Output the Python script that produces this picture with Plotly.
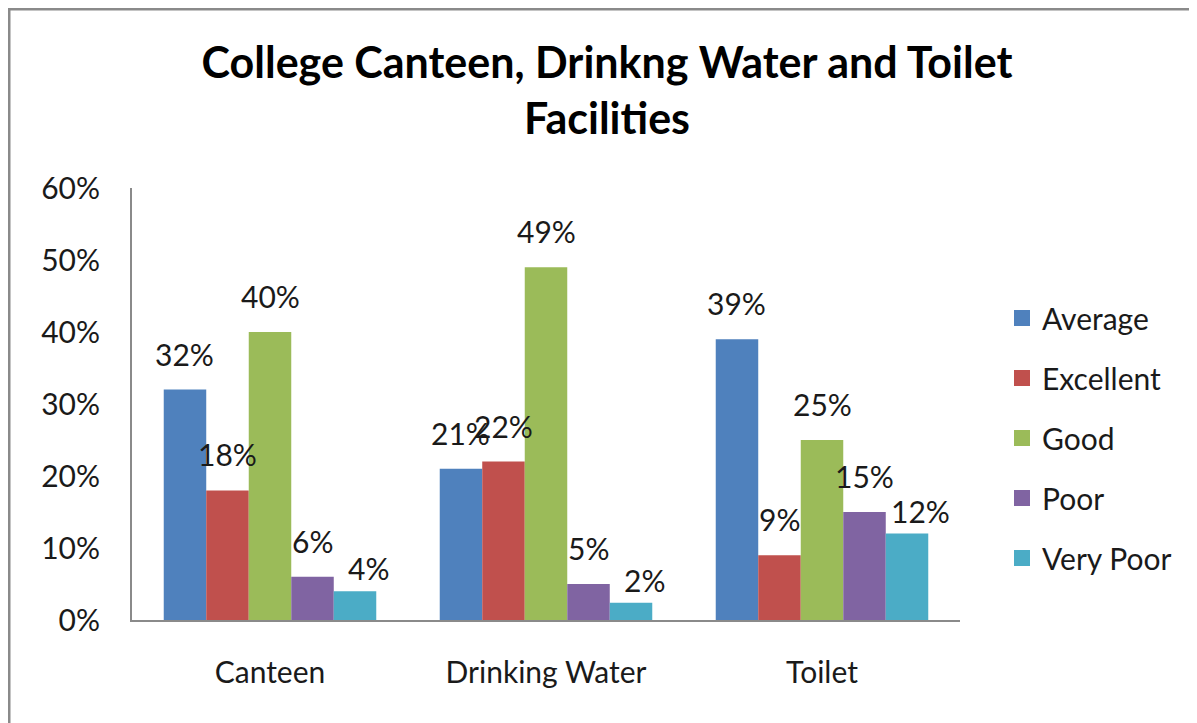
import plotly.graph_objects as go

categories = ["Canteen", "Drinking Water", "Toilet"]
series_names = ["Average", "Excellent", "Good", "Poor", "Very Poor"]
average = [0.32, 0.21, 0.39]
excellent = [0.18, 0.22, 0.09]
good = [0.40, 0.49, 0.25]
poor = [0.06, 0.05, 0.15]
very_poor = [0.04, 0.024, 0.12]
y_ticks = [0, 0.1, 0.2, 0.3, 0.4, 0.5, 0.6]
colors = ["#4F81BD", "#C0504D", "#9BBB59", "#8064A2", "#4BACC6"]

all_series = [average, excellent, good, poor, very_poor]

# the page places the figure 8px from the window's top-left corner
W, H = 1197, 723
L, R, T, B = 124, 245, 180, 111
plot_w = W - L - R
plot_h = H - T - B
FONT = "Lato"
FS = 30

fig = go.Figure()
for name, vals, col in zip(series_names, all_series, colors):
    fig.add_trace(go.Bar(
        x=categories, y=vals, name=name, marker=dict(color=col, line=dict(width=0)),
        showlegend=False, legendgroup=name,
    ))
for name, col in zip(series_names, colors):
    fig.add_trace(go.Scatter(
        x=[None], y=[None], mode="markers", name=name, legendgroup=name,
        marker=dict(symbol="square", size=16, color=col),
    ))

# data labels above bars (last series nudged as in the original to limit overlap)
n = len(series_names)
cat_w = plot_w / len(categories)
bargap = 0.23
bar_w = cat_w * (1 - bargap) / n
annotations = []
for i, vals in enumerate(all_series):
    last = i == n - 1
    for c, v in zip(categories, vals):
        annotations.append(dict(
            x=c, y=v, xref="x", yref="y", text=f"{round(v*100):d}%",
            showarrow=False, yanchor="bottom", xanchor="center",
            xshift=(i - (n - 1) / 2) * bar_w + (13 if last else 0),
            yshift=3 if last else 16,
            font=dict(family=FONT, size=FS, color="#1a1a1a"),
        ))

fig.update_layout(
    width=W, height=H,
    margin=dict(l=L, r=R, t=T, b=B),
    paper_bgcolor="white", plot_bgcolor="white",
    barmode="group", bargap=bargap, bargroupgap=0,
    title=dict(
        text="<b>College Canteen, Drinkng Water and Toilet<br>Facilities</b>",
        x=599 / W, xanchor="center", y=1 - 70 / H, yanchor="top",
        font=dict(family=FONT, size=43, color="#000000"),
    ),
    font=dict(family=FONT, size=FS, color="#1a1a1a"),
    legend=dict(
        x=(994 - L) / plot_w, xanchor="left", y=(H - B - 284) / plot_h, yanchor="top",
        font=dict(family=FONT, size=FS, color="#1a1a1a"),
        tracegroupgap=18, bgcolor="rgba(0,0,0,0)",
    ),
    xaxis=dict(
        showline=True, linecolor="#8a8a8a", linewidth=2, ticks="", showgrid=False,
        tickfont=dict(family=FONT, size=FS, color="#1a1a1a"), ticklabelstandoff=25,
    ),
    yaxis=dict(
        range=[0, 0.6], tickvals=y_ticks, tickformat=".0%", showline=True,
        linecolor="#8a8a8a", linewidth=2, ticks="", showgrid=False, zeroline=False,
        tickfont=dict(family=FONT, size=FS, color="#1a1a1a"), ticklabelstandoff=24,
    ),
    annotations=annotations,
    shapes=[dict(
        type="rect", xref="paper", yref="paper",
        x0=(1 - L) / plot_w, x1=(W + 20 - L) / plot_w,
        y0=-(B + 20) / plot_h, y1=(H - B - 1) / plot_h,
        line=dict(color="#8a8a8a", width=3), fillcolor="rgba(0,0,0,0)", layer="below",
    )],
)

fig.write_html("out.html")
